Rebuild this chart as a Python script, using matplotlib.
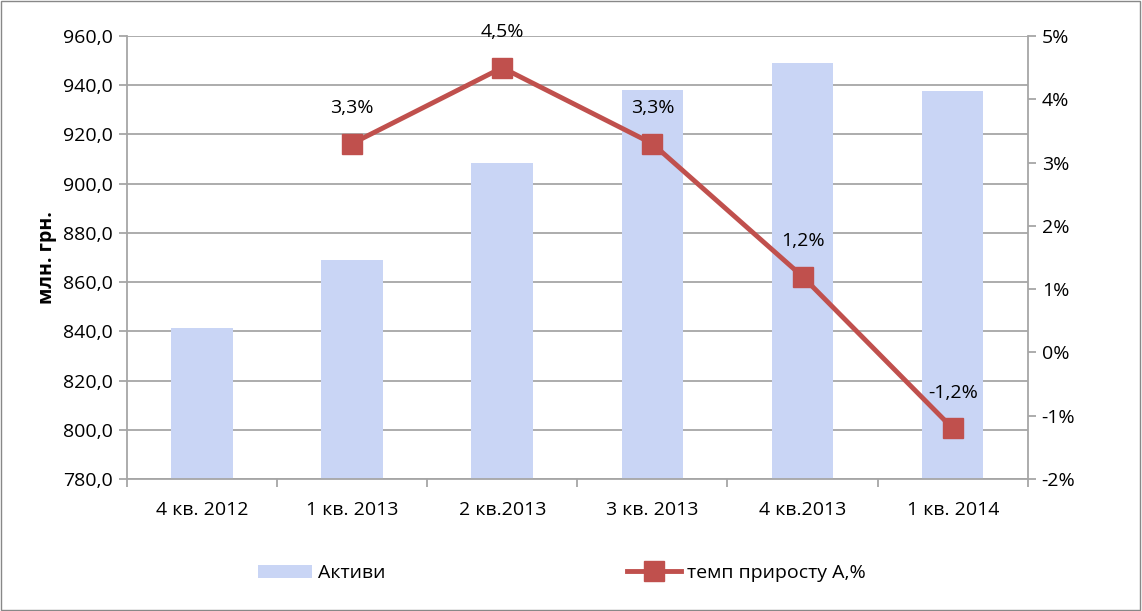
import numpy as np
import matplotlib.pyplot as plt
from matplotlib.ticker import FuncFormatter, FixedLocator
from matplotlib.lines import Line2D
from matplotlib.patches import Patch

plt.rcParams['font.family'] = ['Open Sans', 'DejaVu Sans']

quarters = ['4 кв. 2012', '1 кв. 2013', '2 кв.2013', '3 кв. 2013', '4 кв.2013', '1 кв. 2014']
assets = [841.5, 869.2, 908.4, 938.0, 949.0, 937.6]
growth = [np.nan, 3.3, 4.5, 3.3, 1.2, -1.2]
growth_labels = ['', '3,3%', '4,5%', '3,3%', '1,2%', '-1,2%']

bar_color = '#c9d5f5'
line_color = '#c0504d'
grid_color = '#a6a6a6'
fs = 14

fig = plt.figure(figsize=(11.42, 6.11), dpi=100)
ax = fig.add_axes([0.111, 0.216, 0.789, 0.725])
x = np.arange(len(quarters))

ax.bar(x, assets, width=0.41, color=bar_color, edgecolor='none', zorder=2)
ax.set_ylim(780, 960)
ax.set_xlim(-0.5, len(quarters) - 0.5)
ax.set_yticks(np.arange(780, 961, 20))
ax.yaxis.set_major_formatter(FuncFormatter(lambda v, p: f'{v:.1f}'.replace('.', ',')))
ax.yaxis.grid(True, color=grid_color, lw=1.3, zorder=0)
ax.set_xticks(x)
ax.set_xticklabels(quarters)
ax.xaxis.set_minor_locator(FixedLocator(np.arange(-0.5, len(quarters), 1)))
ax.tick_params(axis='x', which='major', length=0, pad=16, labelsize=fs)
ax.tick_params(axis='x', which='minor', length=6, color=grid_color, width=1.3)
ax.tick_params(axis='y', length=6, color=grid_color, width=1.3, labelsize=fs, pad=4)
ax.set_ylabel('млн. грн.', fontsize=fs, fontweight='bold', labelpad=4)
for s in ['top', 'right']:
    ax.spines[s].set_visible(False)
for s in ['left', 'bottom']:
    ax.spines[s].set_color(grid_color)
    ax.spines[s].set_linewidth(1.3)

ax2 = ax.twinx()
ax2.plot(x, growth, color=line_color, lw=3.5, marker='s', markersize=14, zorder=3)
ax2.set_ylim(-2, 5)
ax2.set_yticks(np.arange(-2, 6, 1))
ax2.yaxis.set_major_formatter(FuncFormatter(lambda v, p: f'{int(v)}%'.replace('\u2212', '-')))
ax2.tick_params(axis='y', length=6, color=grid_color, width=1.3, labelsize=fs, pad=4)
for s in ['top', 'left', 'bottom']:
    ax2.spines[s].set_visible(False)
ax2.spines['right'].set_color(grid_color)
ax2.spines['right'].set_linewidth(1.3)

for xi, g, lab in zip(x, growth, growth_labels):
    if lab:
        ax2.annotate(lab, (xi, g), xytext=(0, 19), textcoords='offset points',
                     ha='center', va='bottom', fontsize=fs)

handles = [Patch(facecolor=bar_color, edgecolor='none'),
           Line2D([], [], color=line_color, lw=3.5, marker='s', markersize=14)]
fig.legend(handles, ['Активи', 'темп приросту А,%'], loc='center', bbox_to_anchor=(0.492, 0.062),
           ncol=2, frameon=False, fontsize=fs, columnspacing=12.4, handlelength=2.8,
           handletextpad=0.3)

fig.patches.append(plt.Rectangle((0.001, 0.002), 0.997, 0.996, transform=fig.transFigure,
                                 fill=False, edgecolor='#888888', lw=1))

fig.savefig('out.png', dpi=100)
